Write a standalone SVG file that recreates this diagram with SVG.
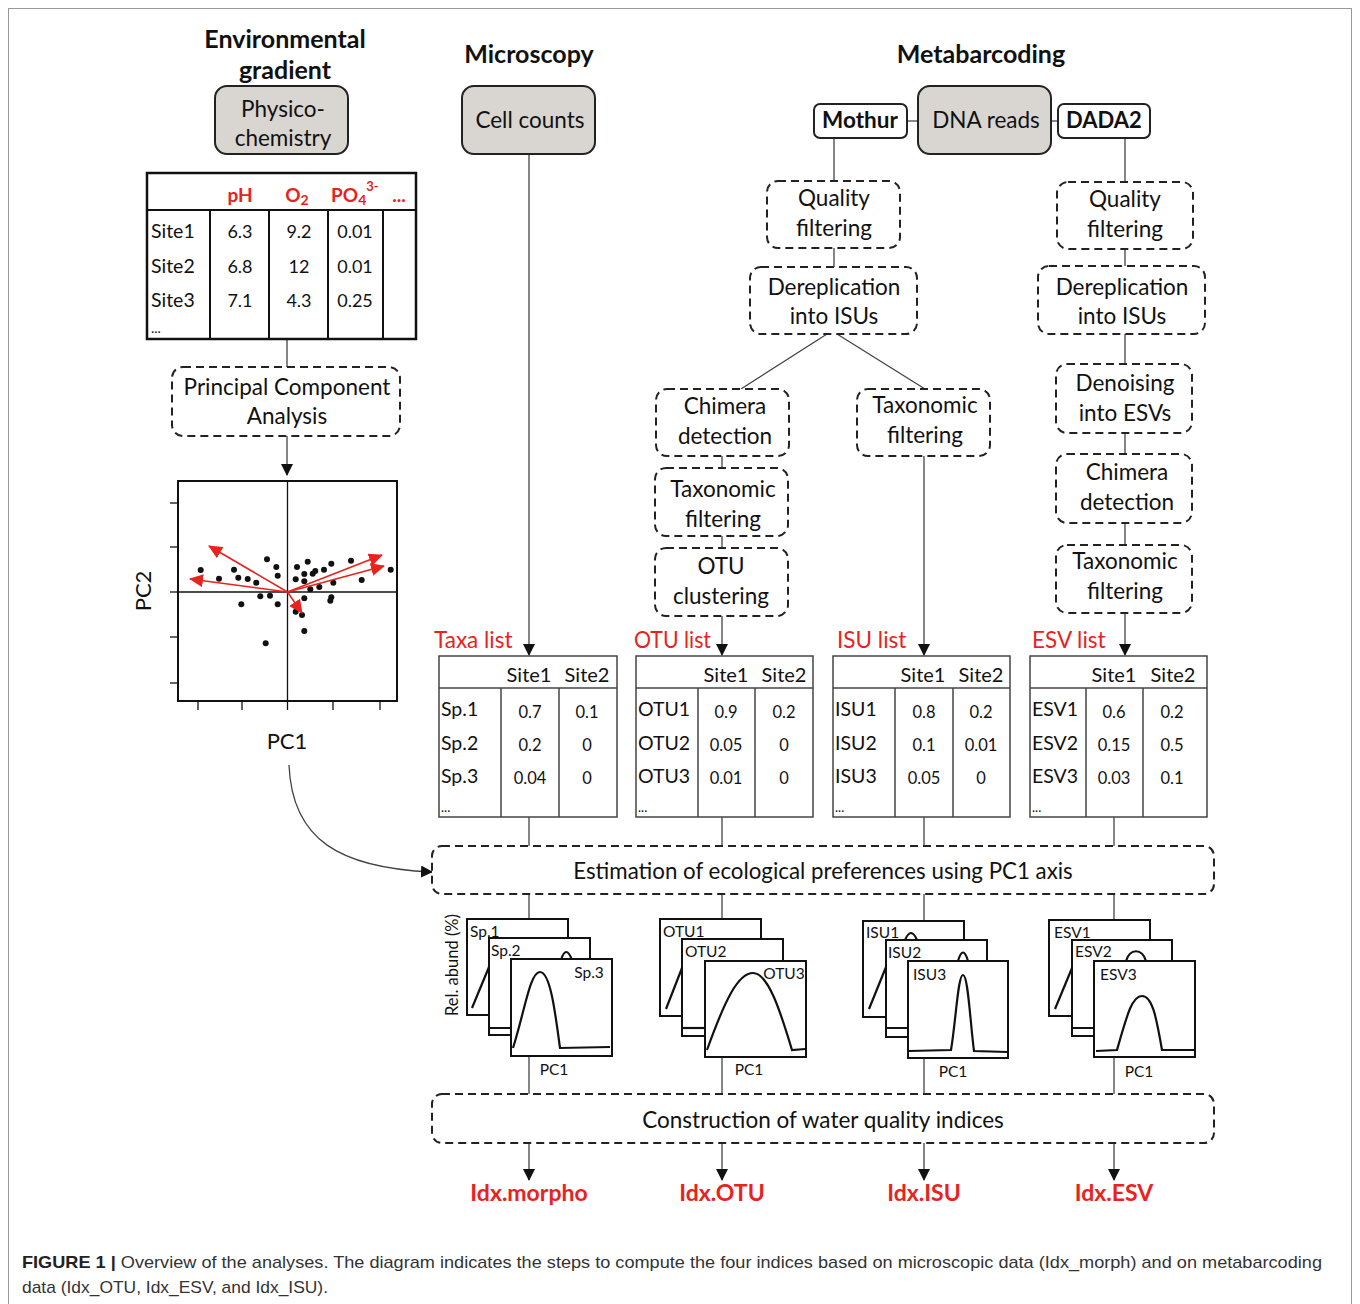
<svg xmlns="http://www.w3.org/2000/svg" width="1360" height="1304" viewBox="0 0 1360 1304">
<defs>
<style>
.t{font-family:Lato,'Open Sans','Liberation Sans',sans-serif;fill:#111;text-anchor:middle}
.b{font-weight:bold}
.l{text-anchor:start}
.red{fill:#e8231d}
.bx{font-size:22.5px}
.gray{fill:#d9d5d0;stroke:#222;stroke-width:2}
.wbox{fill:#fff;stroke:#222;stroke-width:2}
.dash{fill:#fff;stroke:#222;stroke-width:2;stroke-dasharray:8 5}
.conn{fill:none;stroke:#444;stroke-width:1.3}
.tbl{fill:#fff;stroke:#444;stroke-width:1.5}
.tl{stroke:#444;stroke-width:1.5}
.pan{fill:#fff;stroke:#111;stroke-width:2}
.crv{fill:none;stroke:#111;stroke-width:2.2}
.rarr{stroke:#e8231d;stroke-width:1.6;fill:none}
.cap{font-family:'Liberation Sans Narrow','Liberation Sans',sans-serif;fill:#333;font-size:17px}
</style>
<marker id="ah" markerWidth="12" markerHeight="12" viewBox="0 0 12 12" refX="11" refY="6" orient="auto" markerUnits="userSpaceOnUse">
<path d="M0,0 L12,6 L0,12 z" fill="#111"/>
</marker>
<marker id="rh" markerWidth="14" markerHeight="13" viewBox="0 0 14 13" refX="13" refY="6.5" orient="auto" markerUnits="userSpaceOnUse">
<path d="M0,0 L14,6.5 L0,13 z" fill="#e8231d"/>
</marker>
</defs>
<rect x="0" y="0" width="1360" height="1304" fill="#fff"/>
<rect x="8.5" y="8.5" width="1343" height="1320" fill="none" stroke="#999" stroke-width="1"/>

<!-- Headers -->
<g id="headers">
<text class="t b" x="285" y="48" font-size="25">Environmental</text>
<text class="t b" x="285" y="79" font-size="25">gradient</text>
<text class="t b" x="529" y="63" font-size="25">Microscopy</text>
<text class="t b" x="981" y="63" font-size="25">Metabarcoding</text>
</g>

<!-- Connectors -->
<g id="connectors">
<line class="conn" x1="287" y1="339" x2="287" y2="367"/>
<line class="conn" x1="287" y1="436" x2="287" y2="475" marker-end="url(#ah)"/>
<path class="conn" d="M289,765 C292,840 340,868 432,872" marker-end="url(#ah)"/>
<line class="conn" x1="529" y1="154" x2="529" y2="655" marker-end="url(#ah)"/>
<line class="conn" x1="907" y1="121" x2="918" y2="121"/>
<line class="conn" x1="1051" y1="121" x2="1058" y2="121"/>
<line class="conn" x1="834" y1="138" x2="834" y2="181"/>
<line class="conn" x1="834" y1="248" x2="834" y2="267"/>
<line class="conn" x1="827" y1="334" x2="741" y2="389"/>
<line class="conn" x1="837" y1="334" x2="925" y2="389"/>
<line class="conn" x1="722" y1="456" x2="722" y2="468"/>
<line class="conn" x1="722" y1="536" x2="722" y2="548"/>
<line class="conn" x1="722" y1="616" x2="722" y2="655" marker-end="url(#ah)"/>
<line class="conn" x1="924" y1="456" x2="924" y2="655" marker-end="url(#ah)"/>
<line class="conn" x1="1125" y1="138" x2="1125" y2="182"/>
<line class="conn" x1="1125" y1="249" x2="1125" y2="266"/>
<line class="conn" x1="1125" y1="334" x2="1125" y2="364"/>
<line class="conn" x1="1125" y1="433" x2="1125" y2="454"/>
<line class="conn" x1="1125" y1="523" x2="1125" y2="545"/>
<line class="conn" x1="1125" y1="613" x2="1125" y2="655" marker-end="url(#ah)"/>
<line class="conn" x1="529" y1="817" x2="529" y2="846"/>
<line class="conn" x1="722" y1="817" x2="722" y2="846"/>
<line class="conn" x1="924" y1="817" x2="924" y2="846"/>
<line class="conn" x1="1114" y1="817" x2="1114" y2="846"/>
<line class="conn" x1="529" y1="894" x2="529" y2="919"/>
<line class="conn" x1="722" y1="894" x2="722" y2="919"/>
<line class="conn" x1="924" y1="894" x2="924" y2="921"/>
<line class="conn" x1="1114" y1="894" x2="1114" y2="920"/>
<line class="conn" x1="529" y1="1056" x2="529" y2="1094"/>
<line class="conn" x1="722" y1="1057" x2="722" y2="1094"/>
<line class="conn" x1="924" y1="1058" x2="924" y2="1094"/>
<line class="conn" x1="1114" y1="1057" x2="1114" y2="1094"/>
<line class="conn" x1="529" y1="1143" x2="529" y2="1180" marker-end="url(#ah)"/>
<line class="conn" x1="722" y1="1143" x2="722" y2="1180" marker-end="url(#ah)"/>
<line class="conn" x1="924" y1="1143" x2="924" y2="1180" marker-end="url(#ah)"/>
<line class="conn" x1="1114" y1="1143" x2="1114" y2="1180" marker-end="url(#ah)"/>
</g>

<!-- Environmental branch -->
<g id="physico">
<rect class="gray" x="215" y="86" width="133" height="68" rx="12"/>
<text class="t bx" x="283" y="117">Physico-</text>
<text class="t bx" x="283" y="146">chemistry</text>
</g>
<g id="env-table">
<rect x="147" y="173" width="269" height="166" fill="#fff" stroke="#111" stroke-width="2.5"/>
<line x1="147" y1="210" x2="416" y2="210" stroke="#111" stroke-width="2"/>
<line x1="210" y1="210" x2="210" y2="339" stroke="#111" stroke-width="2"/>
<line x1="269" y1="210" x2="269" y2="339" stroke="#111" stroke-width="2"/>
<line x1="328" y1="210" x2="328" y2="339" stroke="#111" stroke-width="2"/>
<line x1="383" y1="210" x2="383" y2="339" stroke="#111" stroke-width="2"/>
<text class="t b red" x="240" y="202" font-size="19">pH</text>
<text class="t b red" x="297" y="202" font-size="19">O<tspan font-size="14" dy="3">2</tspan></text>
<text class="t b red l" x="331" y="202" font-size="19">PO<tspan font-size="14" dy="3">4</tspan><tspan font-size="13" dy="-14">3-</tspan></text>
<text class="t b red" x="399" y="202" font-size="19">...</text>
<g font-size="18">
<text class="t l" x="151" y="238" font-size="19.5">Site1</text>
<text class="t l" x="151" y="273" font-size="19.5">Site2</text>
<text class="t l" x="151" y="307" font-size="19.5">Site3</text>
<text class="t l" x="151" y="333" font-size="14">...</text>
<text class="t" x="240" y="238">6.3</text><text class="t" x="299" y="238">9.2</text><text class="t" x="355" y="238">0.01</text>
<text class="t" x="240" y="273">6.8</text><text class="t" x="299" y="273">12</text><text class="t" x="355" y="273">0.01</text>
<text class="t" x="240" y="307">7.1</text><text class="t" x="299" y="307">4.3</text><text class="t" x="355" y="307">0.25</text>
</g>
</g>
<g id="pca">
<rect class="dash" x="172" y="367" width="228" height="69" rx="11"/>
<text class="t bx" x="287" y="395">Principal Component</text>
<text class="t bx" x="287" y="424">Analysis</text>
</g>
<g id="pca-plot">
<rect x="178" y="481" width="219" height="220" fill="#fff" stroke="#111" stroke-width="2"/>
<line x1="287.5" y1="481" x2="287.5" y2="701" stroke="#111" stroke-width="1.3"/>
<line x1="178" y1="592" x2="397" y2="592" stroke="#111" stroke-width="1.3"/>
<g stroke="#111" stroke-width="1.3">
<line x1="170" y1="503" x2="178" y2="503"/><line x1="170" y1="547" x2="178" y2="547"/><line x1="170" y1="592" x2="178" y2="592"/><line x1="170" y1="637" x2="178" y2="637"/><line x1="170" y1="683" x2="178" y2="683"/>
<line x1="198" y1="701" x2="198" y2="710"/><line x1="242" y1="701" x2="242" y2="710"/><line x1="287.5" y1="701" x2="287.5" y2="710"/><line x1="333" y1="701" x2="333" y2="710"/><line x1="380" y1="701" x2="380" y2="710"/>
</g>
<g fill="#111">
<circle cx="200.7" cy="570" r="3"/><circle cx="219" cy="578.7" r="3"/><circle cx="234" cy="569.7" r="3"/><circle cx="238.3" cy="577.7" r="3"/><circle cx="247.7" cy="579" r="3"/><circle cx="256.3" cy="582.7" r="3"/><circle cx="267" cy="559.3" r="3"/><circle cx="276.3" cy="567" r="3"/><circle cx="277.7" cy="575.7" r="3"/><circle cx="260.3" cy="596.3" r="3"/><circle cx="270" cy="595.7" r="3"/><circle cx="277.7" cy="604.3" r="3"/><circle cx="241.3" cy="604.3" r="3"/><circle cx="297" cy="567" r="3"/><circle cx="295.7" cy="579.3" r="3"/><circle cx="307.7" cy="561.7" r="3"/><circle cx="304.3" cy="574" r="3"/><circle cx="304.3" cy="581.3" r="3"/><circle cx="312.7" cy="573.7" r="3"/><circle cx="315.3" cy="571" r="3"/><circle cx="310.3" cy="589.3" r="3"/><circle cx="319.3" cy="587" r="3"/><circle cx="324" cy="569.7" r="3"/><circle cx="331.3" cy="563.7" r="3"/><circle cx="333.3" cy="582.7" r="3"/><circle cx="331.3" cy="597.3" r="3"/><circle cx="330.3" cy="600.7" r="3"/><circle cx="351" cy="560.7" r="3"/><circle cx="361.7" cy="580" r="3"/><circle cx="390.7" cy="569.7" r="3"/><circle cx="304.3" cy="598.3" r="3"/><circle cx="295.7" cy="611.7" r="3"/><circle cx="302" cy="615" r="3"/><circle cx="304.3" cy="631" r="3"/><circle cx="265.7" cy="643.3" r="3"/>
</g>
<g>
<line class="rarr" x1="287.5" y1="592" x2="209" y2="546" marker-end="url(#rh)"/>
<line class="rarr" x1="287.5" y1="592" x2="190" y2="579" marker-end="url(#rh)"/>
<line class="rarr" x1="287.5" y1="592" x2="382" y2="555" marker-end="url(#rh)"/>
<line class="rarr" x1="287.5" y1="592" x2="384" y2="566" marker-end="url(#rh)"/>
<line class="rarr" x1="287.5" y1="592" x2="302" y2="613" marker-end="url(#rh)"/>
</g>
<text class="t" x="0" y="0" font-size="22" transform="translate(151,591) rotate(-90)">PC2</text>
<text class="t" x="287" y="749" font-size="22">PC1</text>
</g>

<!-- Microscopy -->
<g id="cell-counts">
<rect class="gray" x="462" y="86" width="133" height="68" rx="12"/>
<text class="t" x="530" y="128" font-size="22.5">Cell counts</text>
</g>

<!-- Metabarcoding top -->
<g id="mothur"><rect class="wbox" x="814" y="104" width="93" height="34" rx="6"/><text class="t b" x="860" y="128" font-size="22.5">Mothur</text></g>
<g id="dna-reads"><rect class="gray" x="918" y="86" width="133" height="68" rx="12"/><text class="t" x="986" y="128" font-size="22.5">DNA reads</text></g>
<g id="dada2"><rect class="wbox" x="1058" y="104" width="92" height="34" rx="6"/><text class="t b" x="1104" y="128" font-size="22">DADA2</text></g>

<!-- Mothur branch -->
<g id="m-quality"><rect class="dash" x="767" y="181" width="133" height="67" rx="11"/><text class="t bx" x="834" y="206">Quality</text><text class="t bx" x="834" y="236">filtering</text></g>
<g id="m-derep"><rect class="dash" x="750" y="267" width="167" height="67" rx="11"/><text class="t bx" x="834" y="295">Dereplication</text><text class="t bx" x="834" y="324">into ISUs</text></g>
<g id="m-chimera"><rect class="dash" x="656" y="389" width="133" height="67" rx="11"/><text class="t bx" x="725" y="414">Chimera</text><text class="t bx" x="725" y="444">detection</text></g>
<g id="m-taxo"><rect class="dash" x="655" y="468" width="133" height="68" rx="11"/><text class="t bx" x="723" y="497">Taxonomic</text><text class="t bx" x="723" y="527">filtering</text></g>
<g id="m-otu"><rect class="dash" x="655" y="548" width="133" height="68" rx="11"/><text class="t bx" x="721" y="574">OTU</text><text class="t bx" x="721" y="604">clustering</text></g>
<g id="isu-taxo"><rect class="dash" x="857" y="389" width="133" height="67" rx="11"/><text class="t bx" x="925" y="413">Taxonomic</text><text class="t bx" x="925" y="443">filtering</text></g>

<!-- DADA2 branch -->
<g id="d-quality"><rect class="dash" x="1057" y="182" width="136" height="67" rx="11"/><text class="t bx" x="1125" y="207">Quality</text><text class="t bx" x="1125" y="237">filtering</text></g>
<g id="d-derep"><rect class="dash" x="1038" y="266" width="167" height="68" rx="11"/><text class="t bx" x="1122" y="295">Dereplication</text><text class="t bx" x="1122" y="324">into ISUs</text></g>
<g id="d-denoise"><rect class="dash" x="1056" y="364" width="136" height="69" rx="11"/><text class="t bx" x="1125" y="391">Denoising</text><text class="t bx" x="1125" y="421">into ESVs</text></g>
<g id="d-chimera"><rect class="dash" x="1056" y="454" width="136" height="69" rx="11"/><text class="t bx" x="1127" y="480">Chimera</text><text class="t bx" x="1127" y="510">detection</text></g>
<g id="d-taxo"><rect class="dash" x="1056" y="545" width="136" height="68" rx="11"/><text class="t bx" x="1125" y="569">Taxonomic</text><text class="t bx" x="1125" y="599">filtering</text></g>

<!-- List tables -->
<g id="taxa-table">
<text class="t red l" x="434" y="648" font-size="22.5">Taxa list</text>
<rect class="tbl" x="439" y="656" width="178" height="161"/>
<line class="tl" x1="439" y1="688" x2="617" y2="688"/>
<line class="tl" x1="501" y1="688" x2="501" y2="817"/><line class="tl" x1="559" y1="688" x2="559" y2="817"/>
<text class="t" x="529" y="682" font-size="20">Site1</text><text class="t" x="587" y="682" font-size="20">Site2</text>
<text class="t l" x="441" y="716" font-size="19.5">Sp.1</text><text class="t l" x="441" y="750" font-size="19.5">Sp.2</text><text class="t l" x="441" y="783" font-size="19.5">Sp.3</text><text class="t l" x="441" y="812" font-size="13">...</text>
<text class="t" x="530" y="718" font-size="16.5">0.7</text><text class="t" x="587" y="718" font-size="16.5">0.1</text>
<text class="t" x="530" y="751" font-size="16.5">0.2</text><text class="t" x="587" y="751" font-size="16.5">0</text>
<text class="t" x="530" y="784" font-size="16.5">0.04</text><text class="t" x="587" y="784" font-size="16.5">0</text>
</g>
<g id="otu-table">
<text class="t red l" x="634" y="648" font-size="22.5" textLength="77" lengthAdjust="spacingAndGlyphs">OTU list</text>
<rect class="tbl" x="636" y="656" width="177" height="161"/>
<line class="tl" x1="636" y1="688" x2="813" y2="688"/>
<line class="tl" x1="698" y1="688" x2="698" y2="817"/><line class="tl" x1="755" y1="688" x2="755" y2="817"/>
<text class="t" x="726" y="682" font-size="20">Site1</text><text class="t" x="784" y="682" font-size="20">Site2</text>
<text class="t l" x="638" y="716" font-size="19.5">OTU1</text><text class="t l" x="638" y="750" font-size="19.5">OTU2</text><text class="t l" x="638" y="783" font-size="19.5">OTU3</text><text class="t l" x="638" y="812" font-size="13">...</text>
<text class="t" x="726" y="718" font-size="16.5">0.9</text><text class="t" x="784" y="718" font-size="16.5">0.2</text>
<text class="t" x="726" y="751" font-size="16.5">0.05</text><text class="t" x="784" y="751" font-size="16.5">0</text>
<text class="t" x="726" y="784" font-size="16.5">0.01</text><text class="t" x="784" y="784" font-size="16.5">0</text>
</g>
<g id="isu-table">
<text class="t red l" x="837" y="648" font-size="22.5">ISU list</text>
<rect class="tbl" x="833" y="656" width="177" height="161"/>
<line class="tl" x1="833" y1="688" x2="1010" y2="688"/>
<line class="tl" x1="895" y1="688" x2="895" y2="817"/><line class="tl" x1="953" y1="688" x2="953" y2="817"/>
<text class="t" x="923" y="682" font-size="20">Site1</text><text class="t" x="981" y="682" font-size="20">Site2</text>
<text class="t l" x="835" y="716" font-size="19.5">ISU1</text><text class="t l" x="835" y="750" font-size="19.5">ISU2</text><text class="t l" x="835" y="783" font-size="19.5">ISU3</text><text class="t l" x="835" y="812" font-size="13">...</text>
<text class="t" x="924" y="718" font-size="16.5">0.8</text><text class="t" x="981" y="718" font-size="16.5">0.2</text>
<text class="t" x="924" y="751" font-size="16.5">0.1</text><text class="t" x="981" y="751" font-size="16.5">0.01</text>
<text class="t" x="924" y="784" font-size="16.5">0.05</text><text class="t" x="981" y="784" font-size="16.5">0</text>
</g>
<g id="esv-table">
<text class="t red l" x="1032" y="648" font-size="22.5">ESV list</text>
<rect class="tbl" x="1030" y="656" width="177" height="161"/>
<line class="tl" x1="1030" y1="688" x2="1207" y2="688"/>
<line class="tl" x1="1086" y1="688" x2="1086" y2="817"/><line class="tl" x1="1143" y1="688" x2="1143" y2="817"/>
<text class="t" x="1114" y="682" font-size="20">Site1</text><text class="t" x="1173" y="682" font-size="20">Site2</text>
<text class="t l" x="1032" y="716" font-size="19.5">ESV1</text><text class="t l" x="1032" y="750" font-size="19.5">ESV2</text><text class="t l" x="1032" y="783" font-size="19.5">ESV3</text><text class="t l" x="1032" y="812" font-size="13">...</text>
<text class="t" x="1114" y="718" font-size="16.5">0.6</text><text class="t" x="1172" y="718" font-size="16.5">0.2</text>
<text class="t" x="1114" y="751" font-size="16.5">0.15</text><text class="t" x="1172" y="751" font-size="16.5">0.5</text>
<text class="t" x="1114" y="784" font-size="16.5">0.03</text><text class="t" x="1172" y="784" font-size="16.5">0.1</text>
</g>

<!-- Estimation -->
<g id="estimation">
<rect class="dash" x="432" y="846" width="782" height="48" rx="10"/>
<text class="t" x="823" y="879" font-size="22.3">Estimation of ecological preferences using PC1 axis</text>
</g>

<!-- Response curves -->
<g id="curves-sp">
<rect class="pan" x="467" y="919" width="101" height="96"/>
<path class="crv" d="M472,1008 L489,967"/>
<text class="t l" x="470" y="937" font-size="15.5">Sp.1</text>
<rect class="pan" x="489" y="938" width="101" height="97"/>
<path class="crv" d="M489,1028 L511,1028 M561,960 Q566,944 572,960"/>
<text class="t l" x="491" y="956" font-size="15.5">Sp.2</text>
<rect class="pan" x="511" y="959" width="101" height="97"/>
<path class="crv" d="M513,1048 C525,1010 530,972 540,972 C550,972 555,1010 560,1048 L610,1047"/>
<text class="t" x="589" y="978" font-size="15.5">Sp.3</text>
<text class="t" x="554" y="1075" font-size="15.5">PC1</text>
<text class="t" x="0" y="0" font-size="16.5" transform="translate(458,965) rotate(-90)">Rel. abund (%)</text>
</g>
<g id="curves-otu">
<rect class="pan" x="660" y="919" width="101" height="97"/>
<path class="crv" d="M666,1009 L682,968"/>
<text class="t l" x="663" y="937" font-size="15.5">OTU1</text>
<rect class="pan" x="682" y="939" width="101" height="97"/>
<path class="crv" d="M682,1028 L705,1028"/>
<text class="t l" x="685" y="957" font-size="15.5">OTU2</text>
<rect class="pan" x="705" y="961" width="101" height="96"/>
<path class="crv" d="M707,1050 C725,1000 738,973 753,973 C768,973 780,1010 792,1050 L805,1049"/>
<text class="t" x="784" y="979" font-size="15.5">OTU3</text>
<text class="t" x="749" y="1075" font-size="15.5">PC1</text>
</g>
<g id="curves-isu">
<rect class="pan" x="863" y="921" width="101" height="96"/>
<path class="crv" d="M869,1009 L886,967 M905,940 Q911,926 917,940"/>
<text class="t l" x="866" y="938" font-size="15.5">ISU1</text>
<rect class="pan" x="886" y="940" width="101" height="97"/>
<path class="crv" d="M886,1028 L908,1028 M958,961 Q963,944 968,961"/>
<text class="t l" x="888" y="958" font-size="15.5">ISU2</text>
<rect class="pan" x="908" y="961" width="100" height="97"/>
<path class="crv" d="M909,1051 L951,1050 C956,1020 958,975 963,975 C968,975 970,1020 974,1051 L1008,1052"/>
<text class="t l" x="913" y="980" font-size="15.5">ISU3</text>
<text class="t" x="953" y="1077" font-size="15.5">PC1</text>
</g>
<g id="curves-esv">
<rect class="pan" x="1049" y="920" width="101" height="96"/>
<path class="crv" d="M1055,1009 L1072,968"/>
<text class="t l" x="1054" y="938" font-size="15.5">ESV1</text>
<rect class="pan" x="1072" y="940" width="100" height="96"/>
<path class="crv" d="M1072,1028 L1094,1028 M1126,961 C1130,948 1142,948 1146,961"/>
<text class="t l" x="1075" y="957" font-size="15.5">ESV2</text>
<rect class="pan" x="1094" y="961" width="101" height="96"/>
<path class="crv" d="M1096,1051 L1117,1050 C1127,1015 1132,996 1142,996 C1152,996 1156,1015 1162,1050 L1195,1050"/>
<text class="t l" x="1100" y="980" font-size="15.5">ESV3</text>
<text class="t" x="1139" y="1077" font-size="15.5">PC1</text>
</g>

<!-- Construction -->
<g id="construction">
<rect class="dash" x="432" y="1094" width="782" height="49" rx="10"/>
<text class="t" x="823" y="1128" font-size="22.5">Construction of water quality indices</text>
</g>
<g id="outputs">
<text class="t b red" x="529" y="1201" font-size="23">Idx.morpho</text>
<text class="t b red" x="722" y="1201" font-size="23">Idx.OTU</text>
<text class="t b red" x="924" y="1201" font-size="23">Idx.ISU</text>
<text class="t b red" x="1114" y="1201" font-size="23">Idx.ESV</text>
</g>

<!-- Caption -->
<g id="caption">
<text class="cap" x="22" y="1268" textLength="1300" lengthAdjust="spacingAndGlyphs"><tspan font-weight="bold" fill="#222">FIGURE 1 |</tspan> Overview of the analyses. The diagram indicates the steps to compute the four indices based on microscopic data (Idx_morph) and on metabarcoding</text>
<text class="cap" x="22" y="1293" textLength="306" lengthAdjust="spacingAndGlyphs">data (Idx_OTU, Idx_ESV, and Idx_ISU).</text>
</g>
</svg>
